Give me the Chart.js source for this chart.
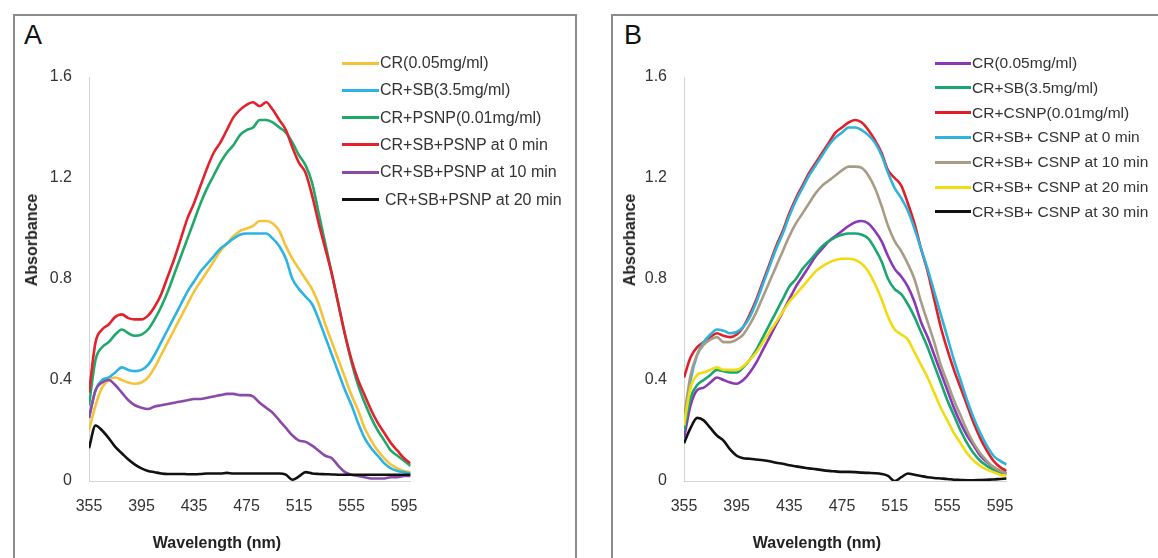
<!DOCTYPE html>
<html><head><meta charset="utf-8">
<script src="https://cdn.jsdelivr.net/npm/chart.js@4.4.1/dist/chart.umd.min.js"></script>
<style>
body{margin:0;width:1158px;height:558px;overflow:hidden;background:#fff;position:relative;font-family:"Liberation Sans",Arial,sans-serif;}
.box{position:absolute;border:2px solid #8c8c8c;box-sizing:border-box;}
.letter{position:absolute;font-size:27px;color:#111;line-height:1;}
.cw{position:absolute;}
.leg{position:absolute;height:0;}
.leg .ln{position:absolute;height:3px;top:-1.5px;left:0;}
.leg .tx{position:absolute;color:#333;white-space:nowrap;transform:translateY(-50%);top:0;}
.xt{position:absolute;font-weight:bold;font-size:16px;color:#222;white-space:nowrap;transform:translate(-50%,-50%);}
.yt{position:absolute;font-weight:bold;font-size:16px;color:#222;white-space:nowrap;transform:translate(-50%,-50%) rotate(-90deg);}
</style></head><body>
<div class="box" style="left:13px;top:14px;width:564px;height:570px"></div>
<div class="box" style="left:611px;top:14px;width:570px;height:570px"></div>
<div class="letter" style="left:24px;top:22px">A</div>
<div class="letter" style="left:624px;top:22px">B</div>
<div class="cw" style="left:14px;top:15px;width:561px;height:543px"><canvas id="cA" width="561" height="543" style="width:561px;height:543px"></canvas></div>
<div class="cw" style="left:612px;top:15px;width:546px;height:543px"><canvas id="cB" width="546" height="543" style="width:546px;height:543px"></canvas></div>
<div class="yt" style="left:32px;top:240px">Absorbance</div>
<div class="yt" style="left:630px;top:240px">Absorbance</div>
<div class="xt" style="left:217px;top:543px">Wavelength (nm)</div>
<div class="xt" style="left:817px;top:543px">Wavelength (nm)</div>
<div id="legA"></div>
<div id="legB"></div>
<script>
// ---------- shared axes ----------
const wavelengths = [355,360,365,370,375,380,385,390,395,400,405,410,415,420,425,430,435,440,445,450,455,460,465,470,475,480,485,490,495,500,505,510,515,520,525,530,535,540,545,550,555,560,565,570,575,580,585,590,595,600];
const xTickValues = [355,395,435,475,515,555,595];
const yTickValues = [0,0.4,0.8,1.2,1.6];

// ---------- panel A ----------
const namesA = ["CR(0.05mg/ml)","CR+SB(3.5mg/ml)","CR+PSNP(0.01mg/ml)","CR+SB+PSNP at 0 min","CR+SB+PSNP at 10 min","CR+SB+PSNP at 20 min"];
const a_cr = [0.20,0.30,0.37,0.40,0.41,0.40,0.39,0.385,0.39,0.41, 0.45,0.50,0.55,0.60,0.65,0.70,0.75,0.79,0.83,0.87, 0.91,0.94,0.97,0.99,1.00,1.01,1.03,1.03,1.02,0.99, 0.93,0.88,0.84,0.80,0.76,0.70,0.62,0.55,0.48,0.41, 0.34,0.28,0.21,0.16,0.12,0.09,0.065,0.05,0.04,0.035];
const a_crsb = [0.25,0.36,0.40,0.41,0.43,0.45,0.44,0.435,0.44,0.46, 0.50,0.55,0.60,0.65,0.70,0.75,0.79,0.83,0.86,0.89, 0.92,0.94,0.96,0.975,0.98,0.98,0.98,0.98,0.96,0.93, 0.88,0.80,0.76,0.73,0.70,0.64,0.57,0.50,0.43,0.36, 0.30,0.23,0.17,0.13,0.10,0.07,0.05,0.04,0.035,0.03];
const a_crpsnp = [0.30,0.48,0.53,0.55,0.58,0.60,0.585,0.575,0.58,0.60, 0.64,0.69,0.75,0.82,0.89,0.96,1.03,1.10,1.16,1.21, 1.26,1.30,1.33,1.37,1.39,1.40,1.43,1.43,1.42,1.40, 1.38,1.34,1.29,1.25,1.18,1.06,0.94,0.82,0.70,0.58, 0.47,0.38,0.31,0.25,0.20,0.16,0.12,0.10,0.08,0.06];
const a_t0 = [0.35,0.55,0.60,0.62,0.65,0.66,0.645,0.64,0.64,0.655, 0.69,0.74,0.81,0.88,0.96,1.04,1.10,1.17,1.24,1.30, 1.34,1.39,1.44,1.47,1.49,1.50,1.485,1.50,1.47,1.43, 1.39,1.32,1.26,1.22,1.13,1.02,0.92,0.82,0.70,0.58, 0.48,0.40,0.34,0.28,0.23,0.19,0.15,0.12,0.09,0.07];
const a_t10 = [0.25,0.36,0.39,0.40,0.38,0.35,0.32,0.30,0.29,0.285, 0.295,0.30,0.305,0.31,0.315,0.32,0.325,0.325,0.33,0.335, 0.34,0.345,0.345,0.34,0.34,0.335,0.31,0.29,0.27,0.24, 0.21,0.18,0.16,0.155,0.14,0.12,0.10,0.09,0.06,0.035, 0.025,0.02,0.015,0.01,0.01,0.01,0.015,0.015,0.02,0.02];
const a_t20 = [0.13,0.22,0.20,0.17,0.135,0.11,0.085,0.065,0.05,0.04, 0.035,0.03,0.028,0.028,0.028,0.027,0.027,0.028,0.03,0.03, 0.03,0.032,0.03,0.03,0.03,0.03,0.03,0.03,0.03,0.03, 0.025,0.005,0.018,0.035,0.03,0.028,0.027,0.026,0.025,0.025, 0.025,0.025,0.025,0.025,0.025,0.025,0.025,0.025,0.025,0.025];
const seriesA = [a_cr,a_crsb,a_crpsnp,a_t0,a_t10,a_t20];
const colorsA = ["#f4c33a","#2bb3e6","#1fa86a","#e3222d","#8a4aa8","#111111"];

// ---------- panel B ----------
const namesB = ["CR(0.05mg/ml)","CR+SB(3.5mg/ml)","CR+CSNP(0.01mg/ml)","CR+SB+ CSNP at 0 min","CR+SB+ CSNP at 10 min","CR+SB+ CSNP at 20 min","CR+SB+ CSNP at 30 min"];
const b_cr = [0.17,0.30,0.36,0.37,0.39,0.41,0.40,0.39,0.385,0.40, 0.43,0.47,0.52,0.57,0.62,0.67,0.72,0.77,0.81,0.85, 0.89,0.92,0.95,0.97,0.99,1.01,1.025,1.03,1.02,0.99, 0.95,0.89,0.84,0.81,0.77,0.71,0.63,0.57,0.50,0.43, 0.36,0.29,0.23,0.18,0.14,0.10,0.075,0.055,0.04,0.03];
const b_crsb = [0.20,0.33,0.38,0.40,0.42,0.44,0.435,0.43,0.43,0.45, 0.48,0.52,0.57,0.62,0.67,0.72,0.77,0.80,0.84,0.87, 0.90,0.93,0.95,0.965,0.975,0.98,0.98,0.975,0.96,0.92, 0.87,0.80,0.76,0.74,0.70,0.65,0.59,0.53,0.46,0.39, 0.32,0.26,0.20,0.15,0.11,0.08,0.06,0.045,0.035,0.03];
const b_crcsnp = [0.41,0.49,0.53,0.55,0.57,0.585,0.575,0.57,0.58,0.61, 0.66,0.72,0.79,0.86,0.93,0.99,1.06,1.12,1.17,1.22, 1.26,1.30,1.34,1.38,1.40,1.42,1.43,1.42,1.39,1.35, 1.30,1.23,1.20,1.17,1.10,1.02,0.92,0.83,0.72,0.61, 0.52,0.44,0.37,0.30,0.23,0.17,0.12,0.08,0.055,0.04];
const b_t0 = [0.22,0.40,0.50,0.55,0.58,0.60,0.595,0.585,0.59,0.61, 0.65,0.71,0.78,0.85,0.92,0.98,1.05,1.11,1.16,1.21, 1.25,1.29,1.33,1.36,1.38,1.40,1.40,1.39,1.37,1.34, 1.29,1.22,1.16,1.12,1.07,1.00,0.92,0.84,0.75,0.66, 0.57,0.48,0.40,0.32,0.25,0.19,0.14,0.10,0.08,0.065];
const b_t10 = [0.25,0.42,0.50,0.54,0.56,0.57,0.55,0.55,0.56,0.58, 0.62,0.67,0.73,0.79,0.85,0.91,0.97,1.02,1.06,1.10, 1.14,1.17,1.19,1.21,1.23,1.245,1.245,1.24,1.21,1.16, 1.09,1.01,0.95,0.91,0.86,0.80,0.71,0.63,0.55,0.46, 0.39,0.32,0.26,0.20,0.15,0.11,0.08,0.055,0.04,0.03];
const b_t20 = [0.22,0.37,0.42,0.43,0.44,0.45,0.44,0.44,0.44,0.455, 0.48,0.51,0.55,0.59,0.63,0.67,0.71,0.74,0.77,0.80, 0.83,0.85,0.865,0.875,0.88,0.88,0.875,0.86,0.83,0.78, 0.72,0.65,0.60,0.58,0.56,0.51,0.46,0.41,0.35,0.29, 0.24,0.19,0.15,0.11,0.08,0.06,0.045,0.035,0.025,0.02];
const b_t30 = [0.15,0.21,0.25,0.24,0.21,0.18,0.16,0.125,0.10,0.09, 0.088,0.085,0.082,0.078,0.072,0.068,0.062,0.058,0.054,0.05, 0.047,0.043,0.04,0.038,0.036,0.036,0.035,0.033,0.032,0.031, 0.028,0.02,0.0,0.015,0.03,0.025,0.02,0.015,0.012,0.01, 0.008,0.005,0.004,0.003,0.003,0.004,0.005,0.006,0.008,0.01];
const seriesB = [b_cr,b_crsb,b_crcsnp,b_t0,b_t10,b_t20,b_t30];
const colorsB = ["#8a38b6","#19a670","#e11f27","#2db3dc","#a89c86","#f0dc10","#111111"];

const FONT = "'Liberation Sans', Arial, sans-serif";

function makeChart(id, names, series, colors, yWidth, padRight) {
  const n = series.length;
  const datasets = series.map((vals, i) => ({
    label: names[i],
    data: vals.map((v, k) => ({x: wavelengths[k], y: v})),
    borderColor: colors[i],
    backgroundColor: colors[i],
    borderWidth: 2.6,
    pointRadius: 0,
    tension: 0.35,
    cubicInterpolationMode: 'monotone',
    fill: false,
    order: n - i
  }));
  return new Chart(document.getElementById(id), {
    type: 'line',
    data: {datasets},
    options: {
      responsive: false,
      animation: false,
      events: [],
      layout: {padding: {left: 0, right: padRight, top: 62, bottom: 0}},
      plugins: {legend: {display: false}, tooltip: {enabled: false}},
      scales: {
        x: {
          type: 'linear', min: 355, max: 600,
          afterBuildTicks: s => { s.ticks = xTickValues.map(v => ({value: v})); },
          afterFit: s => { s.height = 77; },
          grid: {display: false, drawTicks: false},
          border: {display: true, color: '#d4d4d4', width: 1},
          ticks: {padding: 16, color: '#333', font: {family: FONT, size: 16}, maxRotation: 0, autoSkip: false,
                  callback: v => String(v)}
        },
        y: {
          type: 'linear', min: 0, max: 1.6,
          afterBuildTicks: s => { s.ticks = yTickValues.map(v => ({value: v})); },
          afterFit: s => { s.width = yWidth; },
          grid: {display: false, drawTicks: false},
          border: {display: true, color: '#d4d4d4', width: 1},
          ticks: {padding: 17, color: '#333', font: {family: FONT, size: 16},
                  callback: v => String(Math.round(v * 10) / 10)}
        }
      }
    }
  });
}

makeChart('cA', namesA, seriesA, colorsA, 75, 561 - 396.6);
makeChart('cB', namesB, seriesB, colorsB, 72, 546 - 394.6);

function buildLegend(elId, names, colors, left, top, gap, lineW, fontSize, extraGap) {
  const root = document.getElementById(elId);
  names.forEach((nm, i) => {
    const row = document.createElement('div');
    row.className = 'leg';
    row.style.left = left + 'px';
    row.style.top = (top + i * gap) + 'px';
    const ln = document.createElement('div');
    ln.className = 'ln';
    ln.style.width = lineW + 'px';
    ln.style.background = colors[i];
    const tx = document.createElement('div');
    tx.className = 'tx';
    tx.style.fontSize = fontSize + 'px';
    tx.style.left = (lineW + 1 + (extraGap[i] || 0)) + 'px';
    tx.textContent = nm;
    row.appendChild(ln); row.appendChild(tx);
    root.appendChild(row);
  });
}
buildLegend('legA', namesA, colorsA, 342, 63, 27.3, 37, 16, [0,0,0,0,0,5]);
buildLegend('legB', namesB, colorsB, 935, 63, 24.8, 36, 15.5, []);
</script>
</body></html>
